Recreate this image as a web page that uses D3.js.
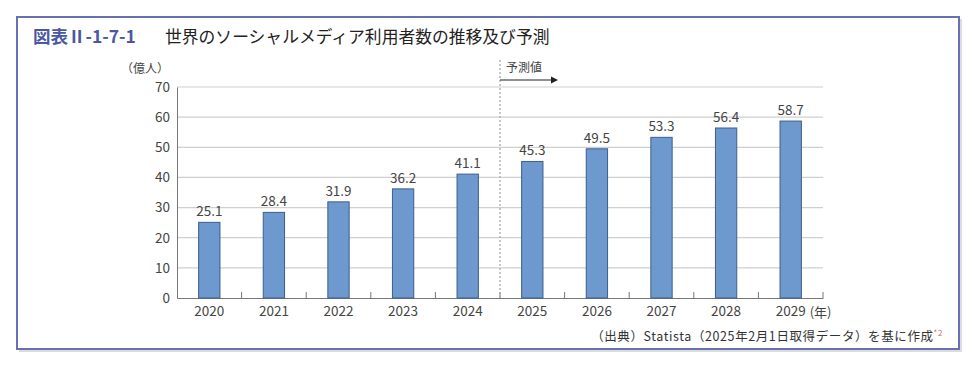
<!DOCTYPE html>
<html>
<head>
<meta charset="utf-8">
<script src="https://cdn.jsdelivr.net/npm/d3@7"></script>
<style>
  body { margin: 0; background: #fff; }
  text { font-family: "Noto Sans CJK JP", "Noto Sans", sans-serif; }
</style>
</head>
<body>
<div id="graph"></div>
<script>
var years = ['2020', '2021', '2022', '2023', '2024', '2025', '2026', '2027', '2028', '2029']
var users = [25.1, 28.4, 31.9, 36.2, 41.1, 45.3, 49.5, 53.3, 56.4, 58.7]
var yTicks = [0, 10, 20, 30, 40, 50, 60, 70]
var firstForecast = '2025'

var W = 980, H = 370
var svg = d3.select('#graph').append('svg').attr('width', W).attr('height', H)

// frame with a soft shadow
svg.append('rect').attr('x', 19).attr('y', 19).attr('width', 943).attr('height', 333)
  .attr('fill', '#dcdcdc')
svg.append('rect').attr('x', 17).attr('y', 17).attr('width', 942).attr('height', 332)
  .attr('fill', '#fff').attr('stroke', '#6770b3').attr('stroke-width', 2)

svg.append('text').attr('x', 33).attr('y', 43)
  .attr('font-size', 17.5).attr('font-weight', 'bold').attr('fill', '#4a58a0')
  .text('図表Ⅱ-1-7-1')
svg.append('text').attr('x', 165).attr('y', 43)
  .attr('font-size', 16.8).attr('fill', '#222')
  .text('世界のソーシャルメディア利用者数の推移及び予測')

var pLeft = 177, pRight = 823, pTop = 87, pBottom = 298

var x = d3.scaleBand().domain(years).range([pLeft, pRight])
var y = d3.scaleLinear().domain([0, 70]).range([pBottom, pTop])

// gridlines
svg.append('g').selectAll('line').data(yTicks.filter(d => d > 0)).join('line')
  .attr('x1', pLeft).attr('x2', pRight)
  .attr('y1', d => y(d)).attr('y2', d => y(d))
  .attr('stroke', '#cfcfcf').attr('stroke-width', 1.2)

// y axis
var yAxis = svg.append('g').attr('transform', 'translate(' + pLeft + ',0)')
  .call(d3.axisLeft(y).tickValues(yTicks).tickSize(0).tickPadding(7))
yAxis.select('.domain').attr('stroke', '#777')
yAxis.selectAll('text').attr('font-size', 13.5).attr('fill', '#444')
  .attr('font-family', '"Noto Sans", sans-serif')

svg.append('text').attr('x', 121).attr('y', 73).attr('font-size', 12).attr('fill', '#444')
  .text('（億人）')

// x axis with boundary ticks
var xAxis = svg.append('g').attr('transform', 'translate(0,' + pBottom + ')')
  .call(d3.axisBottom(x).tickSize(0).tickPadding(8))
xAxis.select('.domain').attr('stroke', '#777')
xAxis.selectAll('text').attr('font-size', 13.5).attr('fill', '#444')
  .attr('font-family', '"Noto Sans", sans-serif')
xAxis.selectAll('line.bound').data(years.slice(1).concat(['end'])).join('line')
  .attr('class', 'bound')
  .attr('x1', (d, i) => pLeft + x.step() * (i + 1)).attr('x2', (d, i) => pLeft + x.step() * (i + 1))
  .attr('y1', 0).attr('y2', -6).attr('stroke', '#777')

svg.append('text').attr('x', x('2029') + x.bandwidth() / 2 + 19).attr('y', pBottom + 19)
  .attr('font-size', 13).attr('fill', '#444').text('(年)')

// bars
var bw = x.step() * 0.33
svg.append('g').selectAll('rect').data(years).join('rect')
  .attr('x', d => x(d) + x.bandwidth() / 2 - bw / 2)
  .attr('y', (d, i) => y(users[i]))
  .attr('width', bw)
  .attr('height', (d, i) => pBottom - y(users[i]))
  .attr('fill', '#6d99cf').attr('stroke', '#3d5d8c').attr('stroke-width', 1)

svg.append('g').selectAll('text').data(years).join('text')
  .attr('x', d => x(d) + x.bandwidth() / 2)
  .attr('y', (d, i) => y(users[i]) - 6)
  .attr('text-anchor', 'middle')
  .attr('font-size', 13.5).attr('fill', '#444')
  .attr('font-family', '"Noto Sans", sans-serif')
  .text((d, i) => users[i].toFixed(1))

// forecast divider
var fx = x(firstForecast)
svg.append('line').attr('x1', fx).attr('x2', fx).attr('y1', 60).attr('y2', pBottom)
  .attr('stroke', '#aaa').attr('stroke-width', 1.3).attr('stroke-dasharray', '2,2')
svg.append('text').attr('x', fx + 6).attr('y', 72).attr('font-size', 12).attr('fill', '#444')
  .text('予測値')
svg.append('line').attr('x1', fx).attr('x2', fx + 52).attr('y1', 80).attr('y2', 80)
  .attr('stroke', '#222').attr('stroke-width', 1)
svg.append('path').attr('d', 'M' + (fx + 58) + ',80 l-7,-3.5 l0,7 z').attr('fill', '#222')

// source
var src = svg.append('text').attr('x', 943).attr('y', 341).attr('text-anchor', 'end')
  .attr('font-size', 12.5).attr('fill', '#333').attr('letter-spacing', 0.6)
src.append('tspan').text('（出典）Statista（2025年2月1日取得データ）を基に作成')
src.append('tspan').attr('fill', '#e06060').attr('font-size', 8).attr('dy', -5).text('*2')
</script>
</body>
</html>
